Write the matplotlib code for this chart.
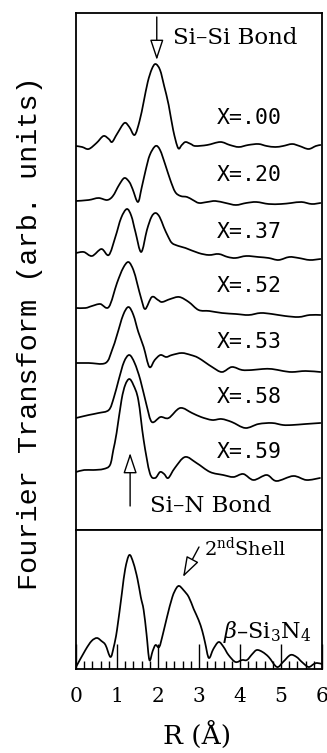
import matplotlib
matplotlib.use("Agg")
import matplotlib.pyplot as plt
from matplotlib.path import Path
from matplotlib.patches import PathPatch
import numpy as np

plt.rcParams['mathtext.fontset'] = 'dejavuserif'

# ---------------- data ----------------
labels = ["X=.00", "X=.20", "X=.37", "X=.52", "X=.53", "X=.58", "X=.59"]

r_00 = [0, 0.15, 0.31, 0.5, 0.67, 0.8, 0.88, 1.0, 1.18, 1.3, 1.43, 1.55, 1.65, 1.75, 1.85, 1.94, 2.05, 2.15, 2.26, 2.37, 2.49, 2.58, 2.67, 2.8, 2.91, 3.2, 3.52, 3.75, 3.97, 4.2, 4.45, 4.65, 4.86, 5.05, 5.27, 5.45, 5.67, 5.85, 5.96]
ft_00 = [0, -1, -3, 3, 10, 7, 4, 12, 23, 19, 11, 25, 44, 64, 77, 82, 76, 60, 41, 16, -2, 1, 4, 2, 0, 1, 4, 1, -1, 1, 2, 0, -1, 0, 2, 0, -3, 0, 1]

r_20 = [0, 0.31, 0.55, 0.76, 0.9, 1.05, 1.18, 1.3, 1.38, 1.51, 1.6, 1.7, 1.8, 1.94, 2.05, 2.18, 2.3, 2.42, 2.55, 2.71, 2.85, 3.0, 3.2, 3.4, 3.65, 3.9, 4.15, 4.4, 4.7, 5.0, 5.25, 5.5, 5.75, 5.96]
ft_20 = [0, 1, 3, 1, 5, 16, 23, 19, 12, -1, 13, 31, 46, 55, 51, 36, 21, 9, 5, 4, 1, -2, -1, 0, -2, -4, -2, -1, -3, -3, -2, -1, -3, -2]

r_37 = [0, 0.19, 0.39, 0.62, 0.8, 0.96, 1.1, 1.24, 1.35, 1.45, 1.59, 1.73, 1.84, 1.94, 2.04, 2.14, 2.24, 2.34, 2.5, 2.67, 2.99, 3.24, 3.48, 3.7, 3.89, 4.15, 4.45, 4.7, 4.94, 5.2, 5.43, 5.7, 5.96]
ft_37 = [1, 2, -2, 5, -1, 17, 36, 45, 38, 22, 2, 24, 37, 41, 37, 27, 18, 11, 8, 6, 1, -1, 0, -3, -4, -2, -3, -4, -6, -3, -4, -6, -5]

r_52 = [0, 0.23, 0.39, 0.59, 0.8, 1.0, 1.15, 1.28, 1.4, 1.49, 1.6, 1.69, 1.85, 2.0, 2.1, 2.3, 2.52, 2.75, 2.99, 3.25, 3.56, 3.9, 4.21, 4.5, 4.78, 5.1, 5.43, 5.7, 5.96]
ft_52 = [-1, -1, 1, 3, 0, 24, 39, 45, 37, 24, 7, -2, 10, 7, 5, 8, 10, 5, -3, -4, -6, -7, -8, -6, -7, -9, -10, -8, -8]

r_53 = [0, 0.31, 0.72, 0.88, 1.0, 1.15, 1.28, 1.4, 1.52, 1.65, 1.79, 1.92, 2.06, 2.2, 2.34, 2.58, 2.8, 2.99, 3.32, 3.56, 3.8, 4.05, 4.29, 4.55, 4.78, 5.05, 5.27, 5.6, 5.96]
ft_53 = [0, 0, 0, 13, 28, 48, 56, 48, 31, 16, -4, 3, 8, 6, 8, 10, 8, 5, -4, -9, -4, -7, -7, -6, -6, -8, -9, -8, -9]

r_58 = [0, 0.31, 0.55, 0.8, 0.92, 1.04, 1.17, 1.3, 1.43, 1.57, 1.72, 1.85, 2.06, 2.26, 2.54, 2.83, 3.05, 3.32, 3.55, 3.8, 4.13, 4.45, 4.78, 5.05, 5.27, 5.6, 5.96]
ft_58 = [-2, 1, 3, 6, 18, 36, 54, 61, 53, 36, 11, -6, -1, -2, 8, 3, -1, -4, -3, -6, -12, -8, -7, -9, -9, -8, -7]

r_59 = [0, 0.2, 0.42, 0.67, 0.83, 0.91, 0.99, 1.11, 1.2, 1.3, 1.4, 1.52, 1.65, 1.8, 1.93, 2.05, 2.15, 2.25, 2.41, 2.66, 2.94, 3.27, 3.59, 3.84, 4.08, 4.33, 4.65, 4.89, 5.3, 5.62, 5.95]
ft_59 = [-1, 1, 1, 2, 6, 21, 38, 71, 86, 92, 86, 71, 31, -2, -7, -1, -3, -7, 3, 14, 8, -1, -4, -6, -3, -9, -4, -10, -5, -9, -7]

# beta-Si3N4 reference
r_ref = [0, 0.23, 0.38, 0.51, 0.62, 0.72, 0.84, 0.92, 1.0, 1.12, 1.2, 1.3, 1.4, 1.5, 1.58, 1.65, 1.72, 1.79, 1.87, 1.94, 2.03, 2.12, 2.22, 2.35, 2.45, 2.52, 2.62, 2.75, 2.87, 2.99, 3.08, 3.15, 3.24, 3.35, 3.48, 3.6, 3.72, 3.89, 4.05, 4.17, 4.3, 4.41, 4.55, 4.7, 4.9, 5.05, 5.23, 5.38, 5.51, 5.67, 5.8, 5.88, 6.0]
ft_ref = [2, 19, 28, 31, 28, 24, 12, 22, 39, 76, 100, 114, 106, 90, 72, 59, 35, 9, 18, 24, 22, 35, 52, 72, 81, 83, 79, 72, 60, 49, 38, 26, 11, 20, 27, 22, 14, 7, 9, 9, 15, 19, 17, 12, 2, 7, 14, 12, 7, 2, 5, 6, 5]

xticks = [0, 1, 2, 3, 4, 5, 6]

# ---------------- layout ----------------
curves = [(r_00, ft_00), (r_20, ft_20), (r_37, ft_37), (r_52, ft_52),
          (r_53, ft_53), (r_58, ft_58), (r_59, ft_59)]
offsets = [384, 329, 276, 223, 167, 114, 59]
label_y = [412, 355, 298, 244, 188, 133, 78]


def smooth_line(ax, x, y, lw):
    """Draw a smooth curve through the data points (Catmull-Rom as Bezier path)."""
    pts = np.column_stack([np.asarray(x, float), np.asarray(y, float)])
    n = len(pts)
    verts = [pts[0]]
    codes = [Path.MOVETO]
    for i in range(n - 1):
        p0 = pts[i - 1] if i > 0 else pts[i]
        p1 = pts[i]
        p2 = pts[i + 1]
        p3 = pts[i + 2] if i + 2 < n else pts[i + 1]
        c1 = p1 + (p2 - p0) / 6.0
        c2 = p2 - (p3 - p1) / 6.0
        verts += [c1, c2, p2]
        codes += [Path.CURVE4] * 3
    patch = PathPatch(Path(verts, codes), fill=False, ec='black', lw=lw,
                      joinstyle='round', capstyle='round')
    ax.add_patch(patch)


W, H = 327, 753
fig = plt.figure(figsize=(W / 100, H / 100), dpi=100)
left = 76 / W
width = 246 / W
ax1 = fig.add_axes([left, 1 - 530 / H, width, 517 / H])
ax2 = fig.add_axes([left, 1 - 669 / H, width, 139 / H])

lw = 1.25
for (r, v), off in zip(curves, offsets):
    smooth_line(ax1, r, np.asarray(v) + off, lw)
ax1.set_xlim(0, 6)
ax1.set_ylim(0, 517)
ax1.set_xticks([])
ax1.set_yticks([])

lab_font = dict(family='DejaVu Sans Mono', size=15.5)
for lab, y in zip(labels, label_y):
    ax1.text(3.44, y, lab, ha='left', va='center', **lab_font)

ax1.text(2.37, 492, 'Si\u2013Si Bond', ha='left', va='center',
         family='DejaVu Serif', size=16.5)
ax1.text(1.80, 24, 'Si\u2013N Bond', ha='left', va='center',
         family='DejaVu Serif', size=16.5)

arrow_kw = dict(arrowstyle='-|>,head_length=0.9,head_width=0.3', fc='white',
                ec='black', lw=1.0, mutation_scale=14, shrinkA=0, shrinkB=0)
ax1.annotate('', xy=(1.97, 470), xytext=(1.97, 513), arrowprops=arrow_kw)
ax1.annotate('', xy=(1.32, 77), xytext=(1.32, 24), arrowprops=arrow_kw)

smooth_line(ax2, r_ref, ft_ref, lw)
ax2.set_xlim(0, 6)
ax2.set_ylim(0, 139)
ax2.set_yticks([])
ax2.set_xticks(xticks)
ax2.set_xticklabels([str(t) for t in xticks], family='DejaVu Serif', fontsize=14.5)
ax2.set_xticks(np.arange(0, 6.01, 0.2), minor=True)
ax2.tick_params(axis='x', which='major', direction='in', length=18, width=1.0, pad=13)
ax2.tick_params(axis='x', which='minor', direction='in', length=6, width=1.0)
ax2.text(3.12, 121, r'2$^{\mathrm{nd}}$Shell', ha='left', va='center',
         family='DejaVu Serif', size=14)
ax2.annotate('', xy=(2.61, 92), xytext=(3.0, 122), arrowprops=arrow_kw)
ax2.text(3.59, 37, r'$\beta$' + '\u2013Si$_3$N$_4$', ha='left', va='center',
         family='DejaVu Serif', size=16)

for ax in (ax1, ax2):
    for s in ax.spines.values():
        s.set_linewidth(1.3)

fig.text(197 / W, 1 - 735 / H, 'R (\u00c5)', ha='center', va='center',
         family='DejaVu Serif', fontsize=19)
fig.text(30 / W, 1 - 333 / H, 'Fourier Transform (arb. units)', rotation=90,
         ha='center', va='center', family='Liberation Mono', fontsize=20.5)

fig.savefig('out.png', dpi=100)
